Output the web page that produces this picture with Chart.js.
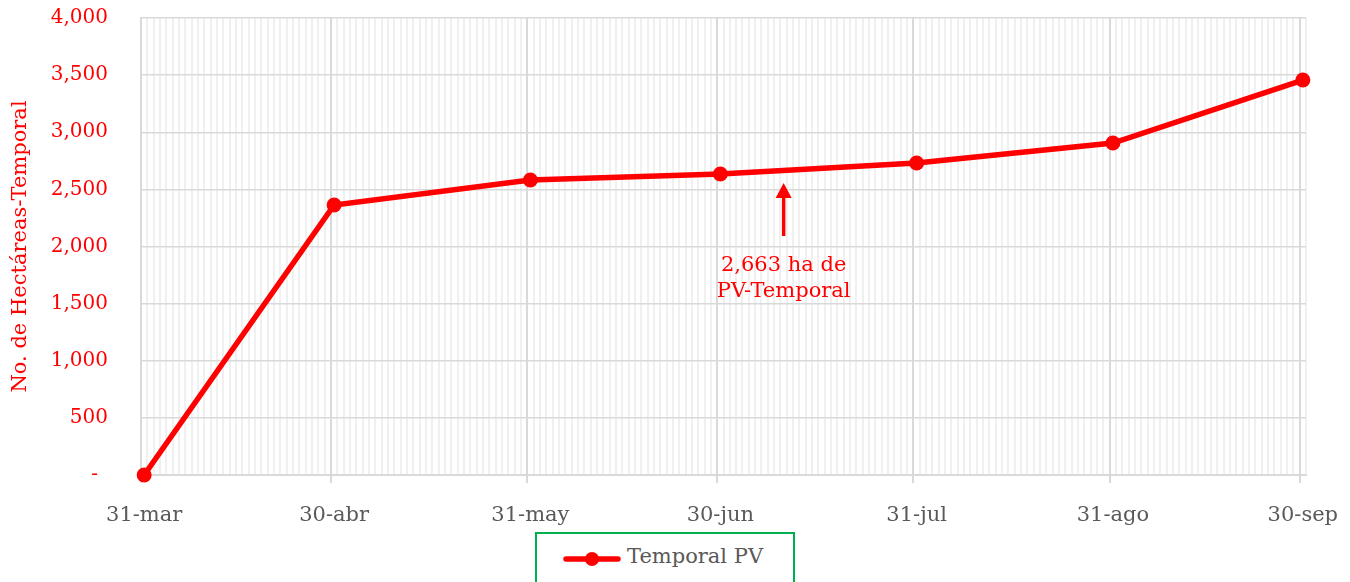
<!DOCTYPE html>
<html>
<head>
<meta charset="utf-8">
<script src="https://cdn.jsdelivr.net/npm/chart.js@4.4.1/dist/chart.umd.min.js"></script>
<style>
html,body{margin:0;padding:0;background:#fff;overflow:hidden;}
#wrap{position:relative;width:1350px;height:582px;overflow:hidden;}
#chart{position:absolute;left:0;top:0;}
#legend{position:absolute;left:535px;top:532px;width:260px;height:80px;border:2px solid #00b050;box-sizing:border-box;background:#fff;}
#legend svg{position:absolute;left:26px;top:16px;}
#legend span{position:absolute;left:90px;top:10px;font:21px "DejaVu Serif";line-height:25px;color:#595959;white-space:nowrap;}
</style>
</head>
<body>
<div id="wrap">
<canvas id="chart" width="1350" height="582"></canvas>
<div id="legend">
<svg width="58" height="18" viewBox="0 0 58 18"><line x1="3" y1="9" x2="55" y2="9" stroke="#ff0000" stroke-width="5.5" stroke-linecap="round"/><circle cx="29" cy="9" r="7" fill="#ff0000"/></svg>
<span>Temporal PV</span>
</div>
</div>
<script>
// ---- data ----
const categories = ['31-mar', '30-abr', '31-may', '30-jun', '31-jul', '31-ago', '30-sep'];
const dates = ['2023-03-31', '2023-04-30', '2023-05-31', '2023-06-30', '2023-07-31', '2023-08-31', '2023-09-30'];
const temporalPV = [0, 2363, 2582, 2635, 2731, 2906, 3457];
const seriesName = 'Temporal PV';
const yAxisTitle = 'No. de Hectáreas-Temporal';
const annotationText = ['2,663 ha de', 'PV-Temporal'];
const annotationDate = '2023-07-10';
const annotationArrowValues = [2556, 2092];   // tip, tail
const annotationTextValues = [1830, 1608];

// ---- derived ----
const DAY = 864e5;
const t0 = Date.parse(dates[0]);
const dayOffsets = dates.map(d => Math.round((Date.parse(d) - t0) / DAY));
const lastDay = dayOffsets[dayOffsets.length - 1];
const annotationDay = Math.round((Date.parse(annotationDate) - t0) / DAY);
const majorSet = new Set(dayOffsets);
const FONT = '"DejaVu Serif"';

const annotationPlugin = {
  id: 'arrowNote',
  afterDatasetsDraw(chart) {
    const {ctx, scales: {x, y}} = chart;
    const px = x.getPixelForValue(annotationDay);
    const tip = y.getPixelForValue(annotationArrowValues[0]);
    const tail = y.getPixelForValue(annotationArrowValues[1]);
    ctx.save();
    ctx.strokeStyle = '#ff0000';
    ctx.fillStyle = '#ff0000';
    ctx.lineWidth = 3.5;
    ctx.beginPath();
    ctx.moveTo(px, tail);
    ctx.lineTo(px, tip + 12);
    ctx.stroke();
    ctx.beginPath();
    ctx.moveTo(px, tip);
    ctx.lineTo(px - 8, tip + 15);
    ctx.lineTo(px + 8, tip + 15);
    ctx.closePath();
    ctx.fill();
    ctx.font = '21px ' + FONT;
    ctx.textAlign = 'center';
    ctx.textBaseline = 'middle';
    annotationText.forEach((t, i) => ctx.fillText(t, px, y.getPixelForValue(annotationTextValues[i])));
    ctx.restore();
  }
};

new Chart(document.getElementById('chart'), {
  type: 'line',
  data: {
    datasets: [{
      label: seriesName,
      data: dayOffsets.map((d, i) => ({x: d, y: temporalPV[i]})),
      borderColor: '#ff0000',
      backgroundColor: '#ff0000',
      borderWidth: 5.5,
      pointRadius: 7.5,
      pointBorderWidth: 0,
      pointBackgroundColor: '#ff0000',
      tension: 0,
      clip: false
    }]
  },
  options: {
    responsive: false,
    animation: false,
    devicePixelRatio: 1,
    layout: {padding: {left: 0, right: 44, top: 18, bottom: 0}},
    plugins: {legend: {display: false}, tooltip: {enabled: false}},
    scales: {
      x: {
        type: 'linear',
        z: 0,
        min: -0.5,
        max: lastDay + 0.5,
        afterBuildTicks(scale) {
          scale.ticks = Array.from({length: lastDay + 1}, (_, i) => ({value: i}));
        },
        afterFit(scale) { scale.height = 107; scale.paddingLeft = 0; scale.paddingRight = 0; },
        grid: {
          offset: true,
          color: c => majorSet.has(c.index) ? '#d9d9d9' : '#f0f0f0',
          lineWidth: 2,
          tickLength: 8,
          tickColor: c => majorSet.has(c.index) ? '#d9d9d9' : 'rgba(0,0,0,0)',
          tickWidth: 2
        },
        border: {display: true, color: '#d9d9d9', width: 2},
        ticks: {
          autoSkip: false,
          maxRotation: 0,
          minRotation: 0,
          padding: 20,
          color: '#595959',
          font: {family: FONT, size: 21},
          callback: v => { const i = dayOffsets.indexOf(v); return i >= 0 ? categories[i] : ''; }
        }
      },
      y: {
        z: -1,
        min: 0,
        max: 4000,
        afterFit(scale) { scale.width = 141; scale.paddingTop = 0; scale.paddingBottom = 0; },
        grid: {color: '#d9d9d9', lineWidth: 1.5, drawTicks: false},
        border: {display: true, color: '#d9d9d9', width: 2},
        ticks: {
          stepSize: 500,
          padding: 33,
          color: '#ff0000',
          font: {family: FONT, size: 20},
          callback: v => v === 0 ? '-\u2002' : v.toLocaleString('en-US')
        },
        title: {
          display: true,
          text: yAxisTitle,
          color: '#ff0000',
          font: {family: FONT, size: 21},
          padding: {top: 8, bottom: 0}
        }
      }
    }
  },
  plugins: [annotationPlugin]
});
</script>
</body>
</html>
